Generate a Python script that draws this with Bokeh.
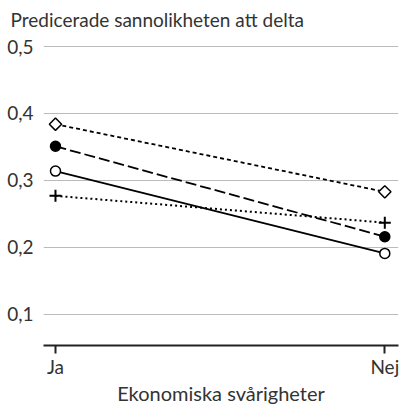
import math
from bokeh.plotting import figure
from bokeh.models import Range1d, FixedTicker, Title
from bokeh.embed import file_html
from bokeh.resources import INLINE

categories = ["Ja", "Nej"]
diamond_vals = [0.384, 0.283]
filled_vals = [0.351, 0.216]
open_vals = [0.314, 0.191]
plus_vals = [0.277, 0.237]
y_ticks = [0.1, 0.2, 0.3, 0.4, 0.5]
y_tick_labels = ["0,1", "0,2", "0,3", "0,4", "0,5"]
title_text = "Predicerade sannolikheten att delta"
x_label = "Ekonomiska svårigheter"

FONT = "Lato"
TXT = "#333333"
xs = list(range(len(categories)))

p = figure(width=400, height=407, output_backend="svg", toolbar_location=None,
           x_range=Range1d(-0.0364, 1.0416), y_range=Range1d(0.0535, 0.515),
           min_border_left=43, min_border_right=2, min_border_top=0, min_border_bottom=61)
p.outline_line_color = None
p.background_fill_color = "white"
p.border_fill_color = "white"

t = Title(text=title_text, align="left", text_font=FONT, text_font_size="19px",
          text_font_style="normal", text_color=TXT, offset=-33, standoff=11)
p.add_layout(t, "above")

# lines
p.line(xs, diamond_vals, line_color="black", line_width=1.8, line_dash="4 3")
p.line(xs, filled_vals, line_color="black", line_width=1.8, line_dash="11 4")
p.line(xs, open_vals, line_color="black", line_width=1.8)
p.line(xs, plus_vals, line_color="black", line_width=2, line_dash="2 3")

# markers
p.scatter(xs, diamond_vals, marker="square", angle=math.pi / 4, size=8.7,
          fill_color="white", line_color="black", line_width=1.5)
p.scatter(xs, filled_vals, marker="circle", size=10, fill_color="black", line_color="black", line_width=1.5)
p.scatter(xs, open_vals, marker="circle", size=10, fill_color="white", line_color="black", line_width=1.5)
p.scatter(xs, plus_vals, marker="cross", size=12, line_color="black", line_width=2)

# axes
p.xaxis.ticker = FixedTicker(ticks=xs)
p.xaxis.major_label_overrides = {x: c for x, c in zip(xs, categories)}
p.xaxis.axis_label = x_label
p.xaxis.axis_line_color = "#222222"
p.xaxis.axis_line_width = 2
p.xaxis.major_tick_line_color = "#222222"
p.xaxis.major_tick_line_width = 2
p.xaxis.major_tick_out = 8
p.xaxis.major_tick_in = 0
p.xaxis.minor_tick_line_color = None
p.xaxis.major_label_standoff = 1
p.xaxis.axis_label_standoff = 0
p.xaxis.major_label_text_font = FONT
p.xaxis.major_label_text_font_size = "19px"
p.xaxis.major_label_text_color = TXT
p.xaxis.axis_label_text_font = FONT
p.xaxis.axis_label_text_font_size = "20px"
p.xaxis.axis_label_text_font_style = "normal"
p.xaxis.axis_label_text_color = TXT

p.yaxis.ticker = FixedTicker(ticks=y_ticks)
p.yaxis.major_label_overrides = {v: l for v, l in zip(y_ticks, y_tick_labels)}
p.yaxis.axis_line_color = None
p.yaxis.major_tick_line_color = None
p.yaxis.minor_tick_line_color = None
p.yaxis.major_tick_out = 0
p.yaxis.major_tick_in = 0
p.yaxis.major_label_standoff = 10
p.yaxis.major_label_text_font = FONT
p.yaxis.major_label_text_font_size = "19px"
p.yaxis.major_label_text_color = TXT

p.xgrid.grid_line_color = None
p.ygrid.ticker = FixedTicker(ticks=y_ticks)
p.ygrid.grid_line_color = "#bbbbbb"
p.ygrid.grid_line_width = 1.2

open("out.html", "w").write(file_html(p, INLINE))
